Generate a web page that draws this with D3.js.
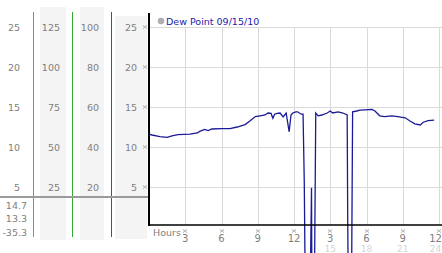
<!DOCTYPE html>
<html>
<head>
<meta charset="utf-8">
<script src="https://cdn.jsdelivr.net/npm/d3@7"></script>
<style>
  body { margin: 0; background: #fff; }
  svg text { font-family: "DejaVu Sans", Verdana, sans-serif; }
</style>
</head>
<body>
<div id="chart"></div>
<script>
// dew point readings, hours after midnight 09/15/10
var hours = [0, 0.25, 0.9, 1.5, 1.9, 2.4, 3.4, 4.0, 4.2, 4.6, 4.9, 5.2, 6.0, 6.7, 7.3, 7.95,
  8.35, 8.8, 9.2, 9.6, 9.85, 10.1, 10.25, 10.4, 10.6, 10.85, 11.1, 11.35, 11.6, 11.75, 11.9,
  12.15, 12.3, 12.6, 12.75, 12.85, 13.1, 13.45, 13.55, 13.8, 14.0, 14.3, 14.75, 15.0, 15.2,
  15.65, 16.05, 16.4, 16.45, 16.65, 16.85, 17.2, 17.45, 17.9, 18.45, 18.7, 19.1, 19.5, 20.1,
  20.6, 21.2, 21.6, 22.0, 22.45, 22.7, 23.1, 23.6];
var dewPoint = [11.6, 11.5, 11.3, 11.2, 11.4, 11.55, 11.6, 11.75, 11.95, 12.2, 12.05, 12.25, 12.3, 12.3, 12.5, 12.8,
  13.25, 13.8, 13.9, 14.0, 14.25, 14.2, 13.6, 14.1, 14.2, 14.25, 13.75, 14.25, 11.9, 14.0, 14.25,
  14.4, 14.4, 14.1, 14.1, 5.6, -35.3, 4.9, -35.3, 14.25, 13.9, 14.0, 14.25, 14.5, 14.25,
  14.4, 14.25, 14.0, 0.0, -35.3, 14.4, 14.5, 14.6, 14.65, 14.7, 14.5, 13.9, 13.8, 13.9,
  13.8, 13.65, 13.25, 12.9, 12.75, 13.1, 13.3, 13.35];

var stats = ["14.7", "13.3", "-35.3"]; // max, avg, min
var col1Ticks = [25, 20, 15, 10, 5];
var col2Ticks = [125, 100, 75, 50, 25];
var col3Ticks = [100, 80, 60, 40, 20];
var col4Ticks = [25, 20, 15, 10, 5];
var hourTicks = [3, 6, 9, 12, 15, 18, 21, 24];
var legendLabel = "Dew Point 09/15/10";

var W = 442, H = 253;
var svg = d3.select("#chart").append("svg").attr("width", W).attr("height", H);

var x = d3.scaleLinear().domain([0, 24]).range([149, 439]);
var y = d3.scaleLinear().domain([0, 25]).range([227, 27]);

// tiny hatched tick mark like the original's little icon
function tickMark(g, cx, cy) {
  g.append("path")
    .attr("d", "M" + (cx - 2) + "," + (cy - 2) + "L" + (cx + 2) + "," + (cy + 2) +
               "M" + (cx + 2) + "," + (cy - 2) + "L" + (cx - 2) + "," + (cy + 2) +
               "M" + (cx - 2) + "," + cy + "L" + (cx + 2) + "," + cy)
    .attr("stroke", "#b4b4b4").attr("stroke-width", 0.8).attr("fill", "none");
}

// left scale panels
var panels = [
  { ticks: col1Ticks, right: 20, bg: null },
  { ticks: col2Ticks, right: 60, bg: [40, 66, 7, 240] },
  { ticks: col3Ticks, right: 99, bg: [80, 104, 7, 240] },
  { ticks: col4Ticks, right: 137, bg: [115, 147, 16, 239] }
];
panels.forEach(function (p) {
  if (p.bg) {
    svg.append("rect")
      .attr("x", p.bg[0]).attr("y", p.bg[2])
      .attr("width", p.bg[1] - p.bg[0]).attr("height", p.bg[3] - p.bg[2])
      .attr("fill", "#f4f4f4");
  }
  svg.selectAll(null)
    .data(p.ticks)
    .enter()
    .append("text")
      .attr("x", p.right)
      .attr("y", function (d, i) { return y(col1Ticks[i]) + 3.5; })
      .attr("text-anchor", "end")
      .style("font-size", "9.5px")
      .style("fill", "#808080")
      .text(function (d) { return d; });
});

// coloured dividers
[[33.5, "#2fa8cc"], [72.5, "#33a833"], [111.5, "#b02828"]].forEach(function (c) {
  svg.append("line")
    .attr("x1", c[0]).attr("x2", c[0]).attr("y1", 12).attr("y2", 237)
    .attr("stroke", c[1]).attr("stroke-width", 1);
});

// separator and stats
svg.append("line")
  .attr("x1", 0).attr("x2", 149).attr("y1", 197).attr("y2", 197)
  .attr("stroke", "#9a9a9a").attr("stroke-width", 2);
svg.selectAll(null)
  .data(stats)
  .enter()
  .append("text")
    .attr("x", 27)
    .attr("y", function (d, i) { return 208.5 + i * 13.5; })
    .attr("text-anchor", "end")
    .style("font-size", "9.5px")
    .style("fill", "#808080")
    .text(function (d) { return d; });

// grid
svg.selectAll(null)
  .data(col1Ticks)
  .enter()
  .append("line")
    .attr("x1", 149).attr("x2", W)
    .attr("y1", function (d) { return Math.round(y(d)) + 0.5; })
    .attr("y2", function (d) { return Math.round(y(d)) + 0.5; })
    .attr("stroke", "#d9d9d9");
svg.selectAll(null)
  .data(hourTicks)
  .enter()
  .append("line")
    .attr("x1", function (d) { return Math.round(x(d)) + 0.5; })
    .attr("x2", function (d) { return Math.round(x(d)) + 0.5; })
    .attr("y1", y(25)).attr("y2", 225)
    .attr("stroke", "#d9d9d9");

// y tick marks
col1Ticks.forEach(function (d) { tickMark(svg, 145, Math.round(y(d))); });

// data line
var line = d3.line()
  .x(function (d) { return x(d[0]); })
  .y(function (d) { return y(d[1]); });
svg.append("path")
  .datum(d3.zip(hours, dewPoint))
  .attr("d", line)
  .attr("fill", "none")
  .attr("stroke", "#1a1a96")
  .attr("stroke-width", 1.3);

// axes
svg.append("line")
  .attr("x1", 149).attr("x2", 149).attr("y1", 13).attr("y2", 226)
  .attr("stroke", "#000").attr("stroke-width", 2);
svg.append("line")
  .attr("x1", 148).attr("x2", W).attr("y1", 225).attr("y2", 225)
  .attr("stroke", "#000").attr("stroke-width", 1.5);

// x labels
svg.append("text")
  .attr("x", 153).attr("y", 236)
  .style("font-size", "9.5px").style("fill", "#808080")
  .text("Hours");
hourTicks.forEach(function (d) { tickMark(svg, Math.round(x(d)), 231); });
// keep the last label inside the picture, as the original does
function labelX(d) { return Math.min(x(d), W - 6.5); }
svg.selectAll(null)
  .data(hourTicks)
  .enter()
  .append("text")
    .attr("x", labelX)
    .attr("y", 241.5)
    .attr("text-anchor", "middle")
    .style("font-size", "10px")
    .style("fill", "#808080")
    .text(function (d) { return d > 12 ? d - 12 : d; });
svg.selectAll(null)
  .data(hourTicks.filter(function (d) { return d > 12; }))
  .enter()
  .append("text")
    .attr("x", labelX)
    .attr("y", 252)
    .attr("text-anchor", "middle")
    .style("font-size", "9px")
    .style("fill", "#d4d4d4")
    .text(function (d) { return d; });

// legend
svg.append("circle")
  .attr("cx", 161).attr("cy", 21).attr("r", 3)
  .attr("fill", "#b0b0b0").attr("stroke", "#999").attr("stroke-width", 0.5);
svg.append("text")
  .attr("x", 166).attr("y", 24.5)
  .style("font-size", "9.5px")
  .style("fill", "#1c1cb0")
  .text(legendLabel);
</script>
</body>
</html>
